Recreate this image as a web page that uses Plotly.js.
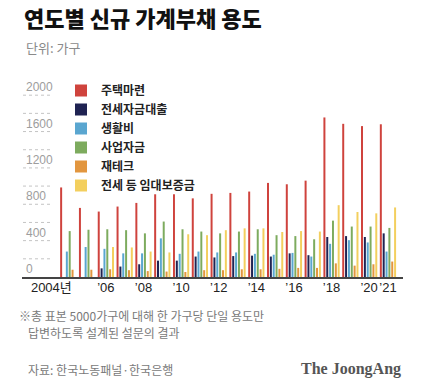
<!DOCTYPE html>
<html>
<head>
<meta charset="utf-8">
<script src="https://cdn.plot.ly/plotly-3.0.1.min.js"></script>
<style>html,body{margin:0;padding:0;background:#fff;}#chart{width:430px;height:382px;}</style>
</head>
<body>
<div id="chart"></div>
<script>
// ---- data ----
const years = [2004, 2005, 2006, 2007, 2008, 2009, 2010, 2011, 2012, 2013, 2014, 2015, 2016, 2017, 2018, 2019, 2020, 2021];
const seriesNames = ['주택마련', '전세자금대출', '생활비', '사업자금', '재테크', '전세 등 임대보증금'];
const housing   = [985, 760, 720, 775, 815, 910, 910, 865, 915, 925, 940, 1035, 1020, 1060, 1755, 1685, 1660, 1680];
const jeonseLoan = [0, 0, 95, 115, 140, 180, 180, 225, 215, 230, 235, 225, 260, 240, 440, 450, 440, 480];
const living    = [280, 330, 310, 260, 260, 425, 255, 280, 270, 270, 255, 245, 265, 225, 365, 405, 380, 280];
const business  = [505, 520, 525, 515, 480, 610, 525, 500, 480, 500, 525, 460, 450, 415, 620, 555, 555, 540];
const investment = [80, 80, 85, 75, 65, 60, 55, 75, 75, 85, 85, 90, 100, 100, 150, 125, 140, 170];
const deposit   = [0, 0, 330, 325, 280, 270, 470, 460, 515, 535, 535, 495, 505, 500, 790, 715, 700, 765];
const xTickVals = [2003.1, 2006, 2008, 2010, 2012, 2014, 2016, 2018, 2020, 2021];
const xTickText = ['2004년', '’06', '’08', '’10', '’12', '’14', '’16', '’18', '’20', '’21'];
const yTickVals = [0, 400, 800, 1200, 1600, 2000];
const dotLevels = [200, 400, 600, 800, 1000, 1200, 1400, 1600, 1800, 2000];

// ---- style ----
const colors = ['#cf433d', '#1f2352', '#5aa6d0', '#7dab5e', '#e2963f', '#f3cf5e'];
const values = [housing, jeonseLoan, living, business, investment, deposit];

const W = 430, H = 382;
const M = {l: 22, r: 27, t: 80, b: 105};
const pw = W - M.l - M.r, ph = H - M.t - M.b;
const px2x = p => (p - M.l) / pw;
const py2y = p => (H - M.b - p) / ph;

const cjk = '"Noto Sans CJK KR", "Noto Sans", sans-serif';
const latin = '"Liberation Sans", "Noto Sans CJK KR", sans-serif';

const traces = seriesNames.map((name, i) => ({
  type: 'bar',
  name: name,
  x: years,
  y: values[i],
  marker: {color: colors[i]},
  hoverinfo: 'skip'
}));

const shapes = dotLevels.map(v => ({
  type: 'line', xref: 'paper', yref: 'y',
  x0: px2x(23), x1: px2x(53), y0: v, y1: v,
  line: {color: '#c4c4c4', width: 1, dash: 'dot'}
}));

const yLabels = yTickVals.map(v => ({
  text: String(v), xref: 'paper', yref: 'y', x: px2x(24), y: v,
  xanchor: 'left', yanchor: 'bottom', yshift: -1, showarrow: false,
  font: {family: latin, size: 12, color: '#9d9d9d'}
}));

const layout = {
  width: W, height: H,
  margin: M,
  paper_bgcolor: '#fff', plot_bgcolor: '#fff',
  font: {family: cjk, color: '#222'},
  barmode: 'group', bargap: 0.09, bargroupgap: 0.3,
  showlegend: true,
  title: {
    text: '연도별 신규 가계부채 용도',
    font: {family: cjk, size: 22, color: '#111', weight: 900},
    xref: 'container', yref: 'container',
    x: 24 / W, xanchor: 'left', y: 1 - 19 / H, yanchor: 'middle'
  },
  legend: {
    x: px2x(61), y: py2y(76), xanchor: 'left', yanchor: 'top',
    bgcolor: 'rgba(0,0,0,0)',
    font: {family: cjk, size: 12, color: '#222', weight: 'bold'},
    traceorder: 'normal', itemclick: false
  },
  xaxis: {
    range: [2001.54, 2021.8],
    showgrid: false, zeroline: false,
    showline: true, linecolor: '#444', linewidth: 2,
    ticks: '', tickvals: xTickVals, ticktext: xTickText,
    tickangle: 0,
    ticklabelstandoff: -3,
    tickfont: {family: latin, size: 13, color: '#222'},
    fixedrange: true
  },
  yaxis: {
    range: [0, 2167],
    showgrid: false, zeroline: false, showline: false,
    ticks: '', showticklabels: false,
    fixedrange: true
  },
  shapes: shapes,
  annotations: yLabels.concat([
    {text: '단위: 가구', xref: 'paper', yref: 'paper', x: px2x(24), y: py2y(48),
     xanchor: 'left', yanchor: 'middle', showarrow: false,
     font: {family: cjk, size: 13, color: '#8a8a8a'}},
    {text: '※총 표본 5000가구에 대해 한 가구당 단일 용도만', xref: 'paper', yref: 'paper',
     x: px2x(17), y: py2y(315), xanchor: 'left', yanchor: 'middle', showarrow: false,
     font: {family: cjk, size: 12, color: '#7a7a7a'}},
    {text: '답변하도록 설계된 설문의 결과', xref: 'paper', yref: 'paper',
     x: px2x(26), y: py2y(332), xanchor: 'left', yanchor: 'middle', showarrow: false,
     font: {family: cjk, size: 12, color: '#7a7a7a'}},
    {text: '자료: 한국노동패널·한국은행', xref: 'paper', yref: 'paper',
     x: px2x(26), y: py2y(369), xanchor: 'left', yanchor: 'middle', showarrow: false,
     font: {family: cjk, size: 12, color: '#7a7a7a'}},
    {text: 'The JoongAng', xref: 'paper', yref: 'paper',
     x: px2x(403), y: py2y(369), xanchor: 'right', yanchor: 'middle', showarrow: false,
     font: {family: '"Liberation Serif", "DejaVu Serif", serif', size: 16, color: '#555', weight: 'bold'}}
  ])
};

Plotly.newPlot('chart', traces, layout, {displayModeBar: false, staticPlot: true});
</script>
</body>
</html>
